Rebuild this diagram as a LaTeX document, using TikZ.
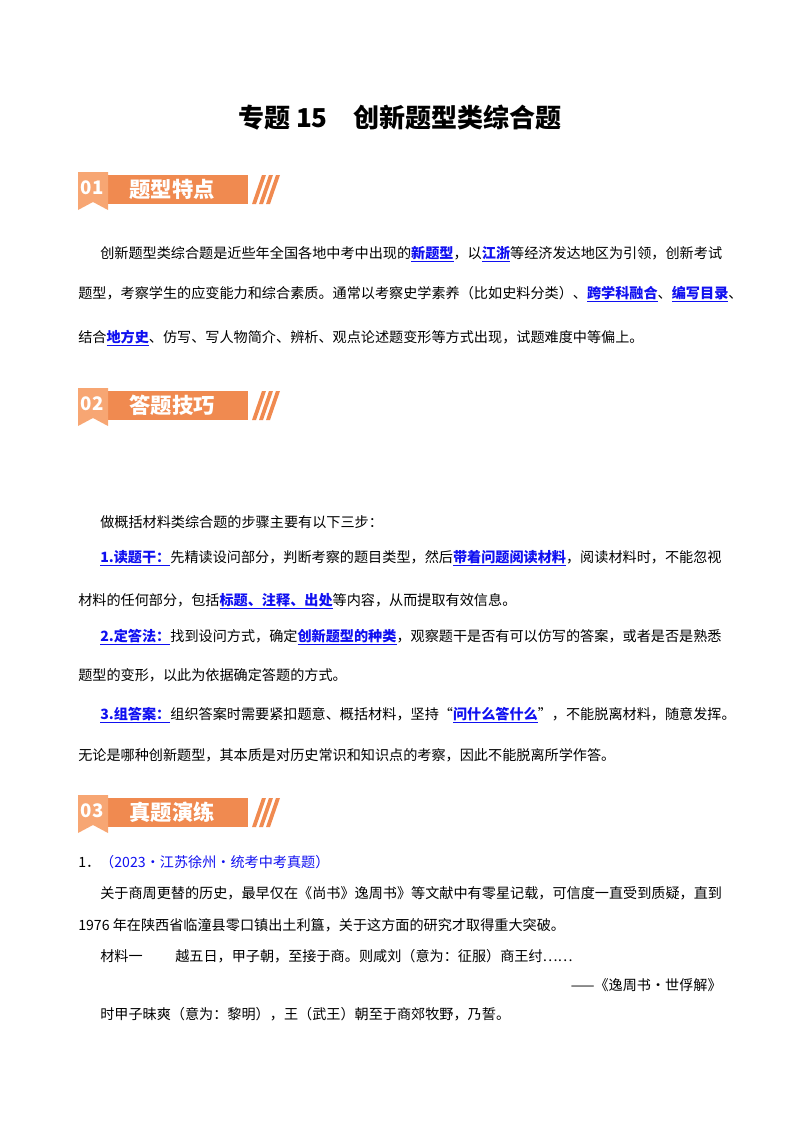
\documentclass[tikz,border=0pt]{standalone}
\usepackage{fontspec}
\setmainfont{Noto Sans CJK SC}
\usepackage{xcolor}
\definecolor{org}{HTML}{F08A50}
\definecolor{orgl}{HTML}{F7A673}
\definecolor{hb}{HTML}{1010F0}
\newcommand{\hl}[1]{\textcolor{hb}{\bfseries\underline{#1}}}
\begin{document}
\begin{tikzpicture}[x=0.75pt,y=-0.75pt,
  txt/.style={anchor=base west,inner sep=0pt,font=\fontsize{10.6pt}{12pt}\selectfont},
  badgenum/.style={text=white,font=\bfseries\fontsize{14pt}{14pt}\selectfont,inner sep=0pt},
  badgetxt/.style={text=white,font=\bfseries\fontsize{16pt}{16pt}\selectfont,inner sep=0pt}]
\useasboundingbox (0,0) rectangle (800,1132);
\node[inner sep=0pt,font=\bfseries\fontsize{19.5pt}{20pt}\selectfont] (title) at (400,118) {专题 15\quad 创新题型类综合题};
% badges
\foreach \y/\n/\t/\nm in {172/01/题型特点/a, 388/02/答题技巧/b, 795/03/真题演练/c}{
  \fill[org] (108,\y+3) rectangle (248,\y+32);
  \fill[orgl] (78,\y) -- (108,\y) -- (108,\y+38) -- (93,\y+30) -- (78,\y+38) -- cycle;
  \foreach \dx in {0,7,14}{\fill[org] (252+\dx,\y+32) -- (256+\dx,\y+32) -- (266+\dx,\y+3) -- (262+\dx,\y+3) -- cycle;}
  \node[badgenum] (n\nm) at (92,\y+16) {\n};
  \node[badgetxt] (t\nm) at (172,\y+17) {\t};
}
\node[txt] (p1) at (100,258) {创新题型类综合题是近些年全国各地中考中出现的\hl{新题型}，以\hl{江浙}等经济发达地区为引领，创新考试};
\node[txt] (p2) at (78,298) {题型，考察学生的应变能力和综合素质。通常以考察史学素养（比如史料分类）、\hl{跨学科融合}、\hl{编写目录}、};
\node[txt] (p3) at (78,342) {结合\hl{地方史}、仿写、写人物简介、辨析、观点论述题变形等方式出现，试题难度中等偏上。};
\node[txt] (q0) at (100,527) {做概括材料类综合题的步骤主要有以下三步：};
\node[txt] (q1) at (100,562) {\hl{1.读题干：}先精读设问部分，判断考察的题目类型，然后\hl{带着问题阅读材料}，阅读材料时，不能忽视};
\node[txt] (q2) at (78,605) {材料的任何部分，包括\hl{标题、注释、出处}等内容，从而提取有效信息。};
\node[txt] (q3) at (100,641) {\hl{2.定答法：}找到设问方式，确定\hl{创新题型的种类}，观察题干是否有可以仿写的答案，或者是否是熟悉};
\node[txt] (q4) at (78,680) {题型的变形，以此为依据确定答题的方式。};
\node[txt] (q5) at (100,719) {\hl{3.组答案：}组织答案时需要紧扣题意、概括材料，坚持“\hl{问什么答什么}”，不能脱离材料，随意发挥。};
\node[txt] (q6) at (78,760) {无论是哪种创新题型，其本质是对历史常识和知识点的考察，因此不能脱离所学作答。};
\node[txt] (r0) at (78,867) {1．\textcolor{hb}{（2023•江苏徐州•统考中考真题）}};
\node[txt] (r1) at (100,898) {关于商周更替的历史，最早仅在《尚书》逸周书》等文献中有零星记载，可信度一直受到质疑，直到};
\node[txt] (r2) at (78,930) {1976 年在陕西省临潼县零口镇出土利簋，关于这方面的研究才取得重大突破。};
\node[txt] (r3) at (100,961) {材料一};
\node[txt] (r4) at (175,961) {越五日，甲子朝，至接于商。则咸刘（意为：征服）商王纣……};
\node[txt,anchor=base east] (r5) at (722,990) {——《逸周书•世俘解》};
\node[txt] (r6) at (100,1019) {时甲子昧爽（意为：黎明），王（武王）朝至于商郊牧野，乃誓。};
\end{tikzpicture}
\end{document}
